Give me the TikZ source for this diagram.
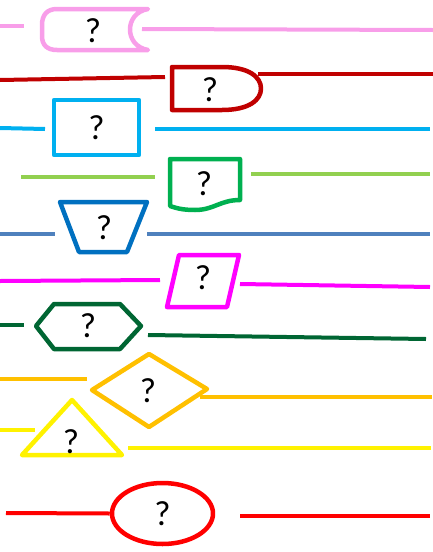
\documentclass[tikz,border=0pt]{standalone}
\usepackage{fontspec}
\setmainfont{Carlito}
\usetikzlibrary{shapes.geometric}
\definecolor{cpink}{RGB}{248,158,233}
\definecolor{cdred}{RGB}{192,0,0}
\definecolor{csky}{RGB}{0,176,240}
\definecolor{clgreen}{RGB}{146,208,80}
\definecolor{cgreen}{RGB}{0,176,80}
\definecolor{cblue}{RGB}{0,112,192}
\definecolor{csteel}{RGB}{79,129,189}
\definecolor{cmag}{RGB}{255,0,255}
\definecolor{cdgreen}{RGB}{0,102,51}
\definecolor{corange}{RGB}{255,192,0}
\definecolor{cyellow}{RGB}{255,242,0}
\definecolor{cred}{RGB}{255,0,0}
\begin{document}
\begin{tikzpicture}[x=1pt,y=-1pt,
  ln/.style={line width=4pt},
  sh/.style={line width=4.5pt, line join=round, fill=white},
  q/.style={font=\fontsize{35}{35}\selectfont, inner sep=0pt, text=black}]
\useasboundingbox (0,0) rectangle (433,552);
% row 1 pink
\draw[sh, draw=cpink] (148,9) -- (57,9) .. controls (47,9) and (42,15) .. (42,25) -- (42,36) .. controls (42,45) and (47,50) .. (57,50) -- (148,50) .. controls (124,46) and (124,13) .. cycle;
\node[q] (q1) at (93,31) {?};
\coordinate (a1) at (0,26); \coordinate (b1) at (24,26);
\coordinate (c1) at (142,29); \coordinate (d1) at (433,30);
\draw[ln, cpink] (a1) -- (b1); \draw[ln, cpink] (c1) -- (d1);
% row 2 dark red
\draw[sh, draw=cdred] (172,67) -- (222,67) .. controls (249,67) and (261,77) .. (261,88.5) .. controls (261,100) and (249,110) .. (222,110) -- (172,110) -- cycle;
\node[q] (q2) at (210,90) {?};
\coordinate (a2) at (0,80); \coordinate (b2) at (165,77);
\coordinate (c2) at (258,74); \coordinate (d2) at (433,74);
\draw[ln, cdred] (a2) -- (b2); \draw[ln, cdred] (c2) -- (d2);
% row 3 sky rectangle
\node[sh, draw=csky, rectangle, minimum width=85, minimum height=55, q] (q3) at (96.5,127.5) {?};
\coordinate (a3) at (0,128); \coordinate (b3) at (45,129);
\coordinate (c3) at (155,129); \coordinate (d3) at (430,129);
\draw[ln, csky] (a3) -- (b3); \draw[ln, csky] (c3) -- (d3);
% row 4 document
\draw[sh, draw=cgreen] (170,159) -- (240,159) -- (240,200) .. controls (220,200) and (214,210) .. (195,210) .. controls (182,210) and (176,208) .. (170,206) -- cycle;
\node[q] (q4) at (204,184) {?};
\coordinate (a4) at (21,177); \coordinate (b4) at (155,177);
\coordinate (c4) at (251,174); \coordinate (d4) at (430,174);
\draw[ln, clgreen] (a4) -- (b4); \draw[ln, clgreen] (c4) -- (d4);
% row 5 trapezoid
\draw[sh, draw=cblue] (60,202) -- (147,202) -- (127,252) -- (79,252) -- cycle;
\node[q] (q5) at (104,228) {?};
\coordinate (a5) at (0,234); \coordinate (b5) at (55,234);
\coordinate (c5) at (147,234); \coordinate (d5) at (430,234);
\draw[ln, csteel] (a5) -- (b5); \draw[ln, csteel] (c5) -- (d5);
% row 6 parallelogram
\draw[sh, draw=cmag] (179,255) -- (239,255) -- (227,307) -- (167,307) -- cycle;
\node[q] (q6) at (203,278) {?};
\coordinate (a6) at (0,281); \coordinate (b6) at (160,280);
\coordinate (c6) at (240,284); \coordinate (d6) at (430,287);
\draw[ln, cmag] (a6) -- (b6); \draw[ln, cmag] (c6) -- (d6);
% row 7 hexagon
\draw[sh, draw=cdgreen] (36,326) -- (54,304) -- (120,304) -- (141,326) -- (120,349) -- (54,349) -- cycle;
\node[q] (q7) at (88,326) {?};
\coordinate (a7) at (0,325); \coordinate (b7) at (24,325);
\coordinate (c7) at (148,335); \coordinate (d7) at (426,339);
\draw[ln, cdgreen] (a7) -- (b7); \draw[ln, cdgreen] (c7) -- (d7);
% row 8 diamond
\draw[sh, draw=corange] (92,390) -- (149,354) -- (207,389) -- (149,427) -- cycle;
\node[q] (q8) at (148,391) {?};
\coordinate (a8) at (0,379); \coordinate (b8) at (87,379);
\coordinate (c8) at (200,397); \coordinate (d8) at (432,397);
\draw[ln, corange] (a8) -- (b8); \draw[ln, corange] (c8) -- (d8);
% row 9 triangle
\draw[sh, draw=cyellow] (72,400) -- (122,455) -- (22,455) -- cycle;
\node[q] (q9) at (71,442) {?};
\coordinate (a9) at (0,430); \coordinate (b9) at (35,430);
\coordinate (c9) at (128,448); \coordinate (d9) at (431,448);
\draw[ln, cyellow] (a9) -- (b9); \draw[ln, cyellow] (c9) -- (d9);
% row 10 ellipse
\node[sh, draw=cred, ellipse, minimum width=101, minimum height=61, inner sep=0pt, q] (q10) at (162.5,513.5) {?};
\coordinate (a10) at (6,513); \coordinate (c10) at (240,516); \coordinate (d10) at (430,516);
\draw[ln, cred] (a10) -- (q10.west); \draw[ln, cred] (c10) -- (d10);
\end{tikzpicture}
\end{document}
